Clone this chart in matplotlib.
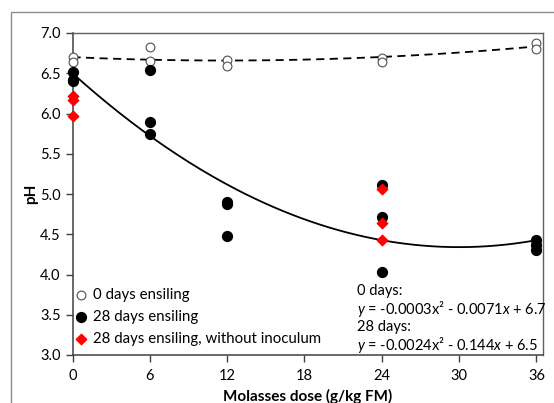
import numpy as np
import matplotlib
matplotlib.use('Agg')
import matplotlib.pyplot as plt
from matplotlib.patches import Rectangle

plt.rcParams['font.family'] = ['Lato', 'DejaVu Sans']
plt.rcParams['mathtext.fontset'] = 'custom'
plt.rcParams['mathtext.rm'] = 'Lato'
plt.rcParams['mathtext.it'] = 'Lato:italic'

# molasses dose (g/kg FM) and measured pH
x_d0 = [0, 0, 6, 6, 12, 12, 24, 24, 36, 36]
ph_d0 = [6.70, 6.64, 6.82, 6.65, 6.67, 6.59, 6.69, 6.64, 6.87, 6.80]

x_d28 = [0, 0, 0, 6, 6, 6, 12, 12, 12, 24, 24, 24, 36, 36, 36]
ph_d28 = [6.52, 6.42, 6.40, 6.54, 5.90, 5.74, 4.90, 4.87, 4.48,
          5.11, 4.71, 4.03, 4.43, 4.37, 4.31]

x_noinoc = [0, 0, 0, 24, 24, 24]
ph_noinoc = [6.22, 6.17, 5.97, 5.06, 4.64, 4.43]

# polynomial trendlines (a, b, c) for a*x^2 + b*x + c
trend_d0 = [0.0003, -0.0071, 6.7]
trend_d28 = [0.0024, -0.144, 6.5]

xticks = [0, 6, 12, 18, 24, 30, 36]
yticks = [3.0, 3.5, 4.0, 4.5, 5.0, 5.5, 6.0, 6.5, 7.0]

fig = plt.figure(figsize=(5.54, 4.03), dpi=100)
ax = fig.add_axes([72.5/554, 48/403, 470/554, 322/403])

xs = np.linspace(0, 36, 200)
ax.plot(xs, np.polyval(trend_d0, xs), color='black', lw=1.3, ls=(0, (4.5, 3)), zorder=2)
ax.plot(xs, np.polyval(trend_d28, xs), color='black', lw=1.3, zorder=2)

ax.scatter(x_d0, ph_d0, s=40, facecolor='white', edgecolor='#505050', lw=0.8,
           label='0 days ensiling', zorder=3, clip_on=False)
ax.scatter(x_d28, ph_d28, s=50, color='black', label='28 days ensiling', zorder=3, clip_on=False)
ax.scatter(x_noinoc, ph_noinoc, s=28, marker='D', color='#ff0000',
           label='28 days ensiling, without inoculum', zorder=4, clip_on=False)

ax.set_xlim(0, 36.47)
ax.set_ylim(3.0, 7.0)
ax.set_xticks(xticks)
ax.set_yticks(yticks)
ax.set_yticklabels([f'{v:.1f}' for v in yticks])
ax.tick_params(direction='out', length=5, width=1, colors='#404040', labelsize=10.5,
               labelcolor='black')
ax.tick_params(axis='x', pad=5)
for s in ['left', 'bottom']:
    ax.spines[s].set_color('#404040')
    ax.spines[s].set_linewidth(1.1)
for s in ['top', 'right']:
    ax.spines[s].set_color('#606060')
    ax.spines[s].set_linewidth(1.0)

ax.set_xlabel('Molasses dose (g/kg FM)', fontsize=11, fontweight='bold', labelpad=4)
ax.set_ylabel('pH', fontsize=11, fontweight='bold', labelpad=1)

ax.legend(loc='lower left', bbox_to_anchor=(-0.03, -0.005), frameon=False, fontsize=10.8,
          handletextpad=0.0, labelspacing=0.55, borderaxespad=0.3, handlelength=1.6)

eq = ('0 days:\n'
      '$\\mathit{y}$ = -0.0003x² - 0.0071$\\mathit{x}$ + 6.7\n'
      '28 days:\n'
      '$\\mathit{y}$ = -0.0024x² - 0.144$\\mathit{x}$ + 6.5')
ax.text(357/554, 48/403, eq, transform=fig.transFigure, fontsize=10.5,
        va='bottom', ha='left', linespacing=1.08)

# outer chart border (only top and left edges fall inside the image)
fig.patches.append(Rectangle((11/554, -0.1), 1.2, 1.1 - 12/403, transform=fig.transFigure,
                             fill=False, edgecolor='#8c8c8c', lw=1.0))

fig.savefig('out.png', dpi=100)
